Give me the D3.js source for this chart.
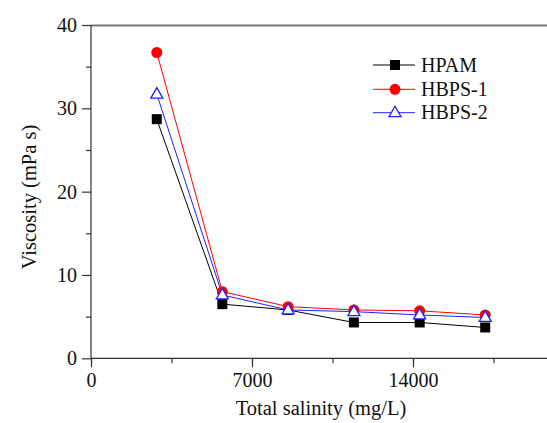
<!DOCTYPE html>
<html><head><meta charset="utf-8">
<script src="https://cdn.jsdelivr.net/npm/d3@7"></script>
<style>body{margin:0;background:#fff}svg{display:block}text{font-family:"Liberation Serif","Times New Roman",serif;fill:#111}</style>
</head><body>
<script>
const salinity = [2860, 5710, 8570, 11430, 14290, 17140];
const hpam  = [28.7, 6.5, 5.8, 4.3, 4.3, 3.7];
const hbps1 = [36.7, 8.0, 6.2, 5.8, 5.7, 5.2];
const hbps2 = [31.7, 7.6, 5.8, 5.6, 5.2, 4.9];
const seriesNames = ["HPAM", "HBPS-1", "HBPS-2"];
const seriesColors = ["#000000", "#ff0000", "#2020ff"];
const xTicks = [0, 7000, 14000];
const yTicks = [0, 10, 20, 30, 40];

const W = 547, H = 423;
const svg = d3.select("body").append("svg").attr("width", W).attr("height", H);
const x = d3.scaleLinear().domain([0, 19800]).range([91, 546.4]);
const y = d3.scaleLinear().domain([0, 40]).range([358.3, 25]);

// top frame line
svg.append("line").attr("x1", 91).attr("x2", 547).attr("y1", 25.5).attr("y2", 25.5)
  .attr("stroke", "#777").attr("stroke-width", 2);

// minor ticks
const gx = svg.append("g").attr("transform", "translate(0,358.3)");
gx.call(d3.axisBottom(x).tickValues(d3.range(0, 19800, 3500)).tickSize(5).tickFormat(""));
gx.call(g => g.select(".domain").remove());
const gx2 = svg.append("g").attr("transform", "translate(0,358.3)")
  .call(d3.axisBottom(x).tickValues(xTicks).tickSize(9).tickPadding(6).tickFormat(d3.format("d")));
gx2.select(".domain").attr("d", `M91,0H547`);
const gy = svg.append("g").attr("transform", "translate(91,0)");
gy.call(d3.axisLeft(y).tickValues(d3.range(5, 40, 10)).tickSize(5).tickFormat(""));
gy.call(g => g.select(".domain").remove());
const gy2 = svg.append("g").attr("transform", "translate(91,0)")
  .call(d3.axisLeft(y).tickValues(yTicks).tickSize(9).tickPadding(5).tickFormat(d3.format("d")));
gy2.select(".domain").attr("d", `M0,${y(40)}V${y(0)}`);
svg.selectAll(".tick line, .domain").attr("stroke", "#333").attr("stroke-width", 1.2);
svg.selectAll(".tick text").style("font-size", "20px").attr("fill", "#111");

// axis titles
svg.append("text").attr("x", 321).attr("y", 415).attr("text-anchor", "middle")
  .style("font-size", "20.5px").text("Total salinity (mg/L)");
svg.append("text").attr("transform", "translate(36,197) rotate(-90)").attr("text-anchor", "middle")
  .style("font-size", "20.5px").text("Viscosity (mPa s)");

const data = [hpam, hbps1, hbps2];
const line = d3.line().x((d, i) => x(salinity[i])).y(d => y(d));

function marker(g, k, cx, cy) {
  if (k === 0) g.append("rect").attr("x", cx - 5).attr("y", cy - 5).attr("width", 10).attr("height", 10).attr("fill", "#000");
  else if (k === 1) g.append("circle").attr("cx", cx).attr("cy", cy).attr("r", 5.5).attr("fill", "#ff0000");
  else g.append("path").attr("d", `M${cx},${cy - 6.5}L${cx + 6},${cy + 4}L${cx - 6},${cy + 4}Z`)
    .attr("fill", "#fff").attr("stroke", seriesColors[2]).attr("stroke-width", 1.3);
}

data.forEach((vals, k) => {
  svg.append("path").attr("d", line(vals)).attr("fill", "none")
    .attr("stroke", seriesColors[k]).attr("stroke-width", 1);
});
data.forEach((vals, k) => {
  const g = svg.append("g");
  vals.forEach((v, i) => marker(g, k, x(salinity[i]), y(v)));
});

// legend
const legY = [65, 89.3, 112.7];
seriesNames.forEach((n, k) => {
  const g = svg.append("g");
  g.append("line").attr("x1", 373).attr("x2", 415).attr("y1", legY[k]).attr("y2", legY[k])
    .attr("stroke", seriesColors[k]).attr("stroke-width", 1);
  marker(g, k, 395, legY[k]);
  g.append("text").attr("x", 421).attr("y", legY[k] + 6.5).style("font-size", "20px").text(n);
});

svg.selectAll("text").style("font-family", '"Liberation Serif","Times New Roman",serif');
</script>
</body></html>
